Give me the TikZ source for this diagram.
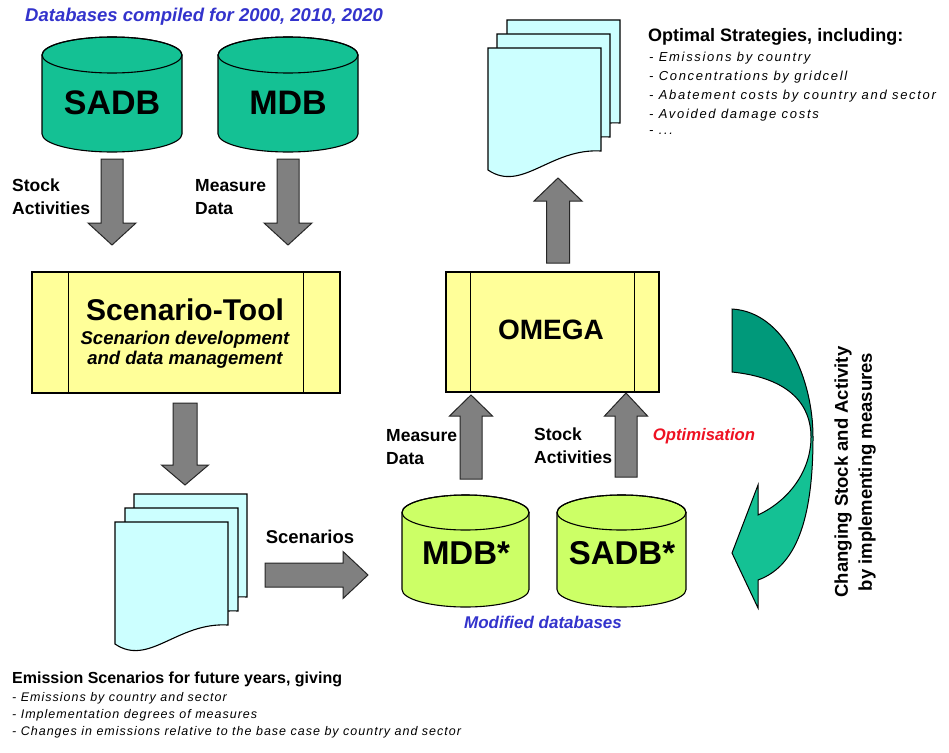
\documentclass[tikz,border=0pt]{standalone}
\usepackage{fontspec}
\setmainfont{Liberation Sans}
\newfontfamily\trackA[LetterSpace=13]{Liberation Sans}
\newfontfamily\trackB[LetterSpace=8]{Liberation Sans}
\definecolor{dbteal}{HTML}{14C194}
\definecolor{dbdark}{HTML}{00997A}
\definecolor{dbgreen}{HTML}{CCFF66}
\definecolor{boxyellow}{HTML}{FFFF99}
\definecolor{doccyan}{HTML}{CCFFFF}
\definecolor{arrgray}{HTML}{808080}
\definecolor{txtblue}{HTML}{3333CC}
\definecolor{txtred}{HTML}{EE1122}
\tikzset{
  outl/.style={draw=black, line width=1.1pt, line join=miter},
  blockarrow/.style={fill=arrgray, draw=black!85, line width=1pt},
  docsty/.style={fill=doccyan, outl},
  ybox/.style={fill=boxyellow, outl, inner sep=0pt},
  bigtxt/.style={font=\bfseries\fontsize{33}{36}\selectfont, inner sep=0pt},
  lbl/.style={font=\bfseries\fontsize{17.5}{23}\selectfont, align=left, inner sep=0pt},
  itemA/.style={font=\trackA\itshape\fontsize{13}{19}\selectfont, inner sep=0pt, anchor=west},
  itemB/.style={font=\trackB\itshape\fontsize{12.5}{17}\selectfont, inner sep=0pt, anchor=west},
}
\newcommand{\varrow}[6]{% cx, ystart, headbase, tip, shafthalf, headhalf
  \draw[blockarrow] (#1-#5,#2) -- (#1-#5,#3) -- (#1-#6,#3) -- (#1,#4) -- (#1+#6,#3) -- (#1+#5,#3) -- (#1+#5,#2) -- cycle;}
\newcommand{\harrow}[6]{% cy, xstart, headbase, tip, shafthalf, headhalf
  \draw[blockarrow] (#2,#1-#5) -- (#3,#1-#5) -- (#3,#1-#6) -- (#4,#1) -- (#3,#1+#6) -- (#3,#1+#5) -- (#2,#1+#5) -- cycle;}
\newcommand{\cyl}[6]{% x0, x1, ytop, ybot, ry, fill
  \pgfmathsetmacro\cylcx{(#1+#2)/2}
  \pgfmathsetmacro\cylrx{(#2-#1)/2}
  \filldraw[fill=#6, outl] (#1,#3+#5) -- (#1,#4-#5) arc[start angle=180, end angle=0, x radius=\cylrx, y radius=#5] -- (#2,#3+#5) arc[start angle=0, end angle=-180, x radius=\cylrx, y radius=#5] -- cycle;
  \draw[outl] (\cylcx,#3+#5) ellipse [x radius=\cylrx, y radius=#5];}
\newcommand{\docpage}[2]{% x0, top
  \draw[docsty] (#1,#2) -- (#1+113,#2) -- (#1+113,#2+103) .. controls (#1+62,#2+100) and (#1+34,#2+145) .. (#1,#2+122) -- cycle;}
\begin{document}
\begin{tikzpicture}[x=1pt,y=-1pt]
\useasboundingbox (0,0) rectangle (949,752);
\fill[white] (0,0) rectangle (949,752);

% title
\node[anchor=west, inner sep=0pt, text=txtblue, font=\bfseries\itshape\fontsize{18.5}{22}\selectfont] (dbtitle) at (25,17) {Databases compiled for 2000, 2010, 2020};

% source databases
\cyl{42}{182}{37}{152}{18}{dbteal}
\node[bigtxt, font=\bfseries\fontsize{34}{36}\selectfont] (sadb) at (112,103) {SADB};
\cyl{218}{358}{37}{152}{18}{dbteal}
\node[bigtxt, font=\bfseries\fontsize{34}{36}\selectfont] (mdb) at (288,103) {MDB};

% arrows into scenario tool
\varrow{112}{159}{223}{245}{11}{24}
\varrow{288}{159}{223}{245}{11}{24}
\node[lbl, anchor=west] (lblsa) at (12,197) {Stock\\Activities};
\node[lbl, anchor=west] (lblmd) at (195,197) {Measure\\Data};

% scenario tool box
\node[ybox, minimum width=308pt, minimum height=121pt] (stool) at (186,332.5) {};
\draw[outl] ([xshift=37pt]stool.north west) -- ([xshift=37pt]stool.south west);
\draw[outl] ([xshift=-37pt]stool.north east) -- ([xshift=-37pt]stool.south east);
\node[inner sep=0pt, font=\bfseries\fontsize{30}{32}\selectfont] (stooltitle) at (185,310) {Scenario-Tool};
\node[inner sep=0pt, align=center, font=\bfseries\itshape\fontsize{18.5}{20}\selectfont] (stoolsub) at (185,350) {Scenarion development\\and data management};

% arrow to scenario docs
\varrow{185}{403}{465}{485}{12}{23.5}

% scenario documents
\docpage{134}{494}
\docpage{125}{508}
\docpage{115}{522}
\node[inner sep=0pt] (scendocs) at (171,580) {};

% scenarios arrow
\harrow{575}{265}{343}{368}{12}{23.5}
\node[inner sep=0pt, font=\bfseries\fontsize{18.5}{22}\selectfont] (lblscen) at (310,537) {Scenarios};

% modified databases
\cyl{402}{529}{495}{607}{17.5}{dbgreen}
\node[bigtxt] (mdbs) at (466,553) {MDB*};
\cyl{557}{686}{495}{607}{17.5}{dbgreen}
\node[bigtxt] (sadbs) at (622,553) {SADB*};
\node[inner sep=0pt, text=txtblue, font=\bfseries\itshape\fontsize{17}{20}\selectfont] (lblmod) at (543,622) {Modified databases};

% arrows into OMEGA
\varrow{471}{479}{416}{395}{11}{21.5}
\varrow{626}{477}{416}{393}{11}{21.5}
\node[lbl, anchor=west] (lblmd2) at (386,447) {Measure\\Data};
\node[lbl, anchor=west] (lblsa2) at (534,446) {Stock\\Activities};

% OMEGA box
\node[ybox, minimum width=213pt, minimum height=120pt] (omega) at (552.5,332) {};
\draw[outl] ([xshift=25pt]omega.north west) -- ([xshift=25pt]omega.south west);
\draw[outl] ([xshift=-25pt]omega.north east) -- ([xshift=-25pt]omega.south east);
\node[inner sep=0pt, font=\bfseries\fontsize{28}{30}\selectfont] (omegatxt) at (551,330) {OMEGA};

% arrow to strategies
\varrow{558}{263}{201}{178}{11.5}{24}

% strategy documents
\docpage{507}{20}
\docpage{497}{34}
\docpage{488}{48}
\node[inner sep=0pt] (stratdocs) at (544,105) {};

\node[anchor=west, inner sep=0pt, font=\bfseries\fontsize{18}{21}\selectfont] (strathead) at (648,37) {Optimal Strategies, including:};
\node[itemA] (s1) at (649,58) {- Emissions by country};
\node[itemA] (s2) at (649,77) {- Concentrations by gridcell};
\node[itemA] (s3) at (649,96) {- Abatement costs by country and sector};
\node[itemA] (s4) at (649,115) {- Avoided damage costs};
\node[itemA] (s5) at (649,133) {- ...};

% optimisation curved arrow
\def\curvedarrow{(732,309) .. controls (785,312) and (813,380) .. (813,437) .. controls (813,510) and (800,565) .. (758,580) -- (758,608) -- (732,553) -- (758,485) -- (758,515) .. controls (790,500) and (811,470) .. (811,437) .. controls (811,405) and (790,378) .. (732,372) -- cycle}
\fill[dbteal] \curvedarrow;
\begin{scope}
  \clip (700,300) rectangle (830,437);
  \fill[dbdark] \curvedarrow;
\end{scope}
\draw[outl, line width=1pt] \curvedarrow;
\node[inner sep=0pt, text=txtred, font=\bfseries\itshape\fontsize{16.7}{20}\selectfont] (lblopt) at (704,436) {Optimisation};
\node[rotate=90, inner sep=0pt, align=center, font=\bfseries\fontsize{18.5}{24}\selectfont] (lblchg) at (855,472) {Changing Stock and Activity\\by implementing measures};

% bottom text
\node[anchor=west, inner sep=0pt, font=\bfseries\fontsize{16}{19}\selectfont] (emhead) at (12,679) {Emission Scenarios for future years, giving};
\node[itemB] (e1) at (12,698) {- Emissions by country and sector};
\node[itemB] (e2) at (12,715) {- Implementation degrees of measures};
\node[itemB] (e3) at (12,732) {- Changes in emissions relative to the base case by country and sector};
\end{tikzpicture}
\end{document}
